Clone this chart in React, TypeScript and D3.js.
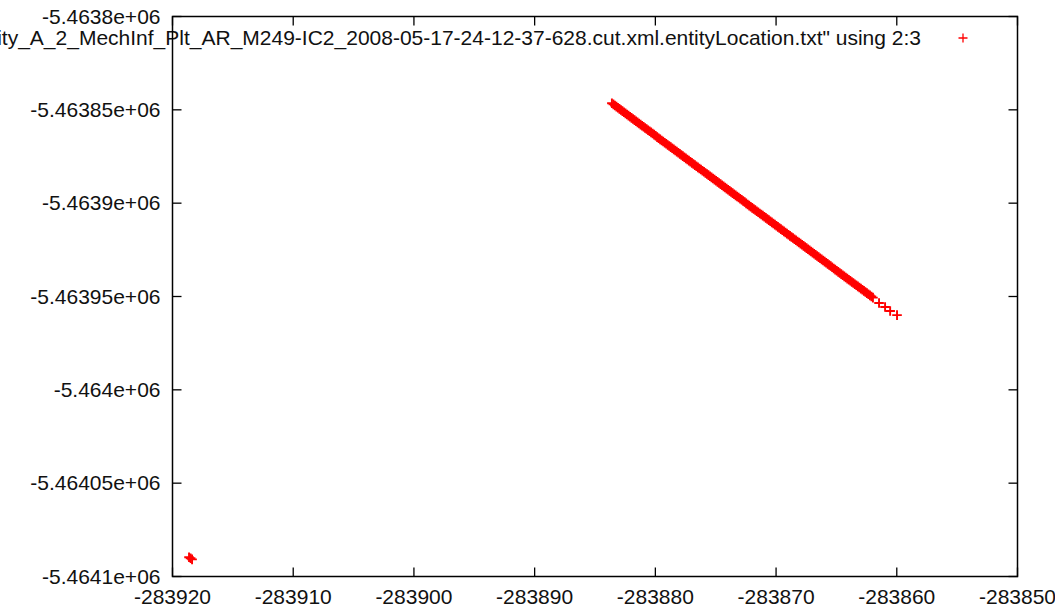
import React from "react";
import * as d3 from "d3";

// Easting (column 2) and northing (column 3) of the logged entity positions.
const trackEasting = [
  -283883.6, -283883.475, -283883.35, -283883.225, -283883.1, -283882.975, -283882.85, -283882.725,
  -283882.6, -283882.475, -283882.35, -283882.225, -283882.1, -283881.975, -283881.85, -283881.725,
  -283881.6, -283881.475, -283881.35, -283881.225, -283881.1, -283880.975, -283880.85, -283880.725,
  -283880.6, -283880.475, -283880.35, -283880.225, -283880.1, -283879.975, -283879.85, -283879.725,
  -283879.6, -283879.475, -283879.35, -283879.225, -283879.1, -283878.975, -283878.85, -283878.725,
  -283878.6, -283878.475, -283878.35, -283878.225, -283878.1, -283877.975, -283877.85, -283877.725,
  -283877.6, -283877.475, -283877.35, -283877.225, -283877.1, -283876.975, -283876.85, -283876.725,
  -283876.6, -283876.475, -283876.35, -283876.225, -283876.1, -283875.975, -283875.85, -283875.725,
  -283875.6, -283875.475, -283875.35, -283875.225, -283875.1, -283874.975, -283874.85, -283874.725,
  -283874.6, -283874.475, -283874.35, -283874.225, -283874.1, -283873.975, -283873.85, -283873.725,
  -283873.6, -283873.475, -283873.35, -283873.225, -283873.1, -283872.975, -283872.85, -283872.725,
  -283872.6, -283872.475, -283872.35, -283872.225, -283872.1, -283871.975, -283871.85, -283871.725,
  -283871.6, -283871.475, -283871.35, -283871.225, -283871.1, -283870.975, -283870.85, -283870.725,
  -283870.6, -283870.475, -283870.35, -283870.225, -283870.1, -283869.975, -283869.85, -283869.725,
  -283869.6, -283869.475, -283869.35, -283869.225, -283869.1, -283868.975, -283868.85, -283868.725,
  -283868.6, -283868.475, -283868.35, -283868.225, -283868.1, -283867.975, -283867.85, -283867.725,
  -283867.6, -283867.475, -283867.35, -283867.225, -283867.1, -283866.975, -283866.85, -283866.725,
  -283866.6, -283866.475, -283866.35, -283866.225, -283866.1, -283865.975, -283865.85, -283865.725,
  -283865.6, -283865.475, -283865.35, -283865.225, -283865.1, -283864.975, -283864.85, -283864.725,
  -283864.6, -283864.475, -283864.35, -283864.225, -283864.1, -283863.975, -283863.85, -283863.725,
  -283863.6, -283863.475, -283863.35, -283863.225, -283863.1, -283862.975, -283862.85, -283862.725,
  -283862.6, -283862.475, -283862.35, -283862.225, -283862.1, -283861.975,
  -283861.47, -283860.97, -283860.55, -283859.98,
];
const trackNorthing = [
  -5463846.5, -5463847.1, -5463847.7, -5463848.3, -5463848.9, -5463849.5, -5463850.1, -5463850.7,
  -5463851.3, -5463851.9, -5463852.5, -5463853.1, -5463853.7, -5463854.3, -5463854.9, -5463855.5,
  -5463856.1, -5463856.7, -5463857.3, -5463857.9, -5463858.5, -5463859.1, -5463859.7, -5463860.3,
  -5463860.9, -5463861.5, -5463862.1, -5463862.7, -5463863.3, -5463863.9, -5463864.6, -5463865.2,
  -5463865.8, -5463866.4, -5463867.0, -5463867.6, -5463868.2, -5463868.8, -5463869.4, -5463870.0,
  -5463870.6, -5463871.2, -5463871.8, -5463872.4, -5463873.0, -5463873.6, -5463874.2, -5463874.8,
  -5463875.4, -5463876.0, -5463876.6, -5463877.2, -5463877.8, -5463878.4, -5463879.0, -5463879.6,
  -5463880.2, -5463880.8, -5463881.4, -5463882.0, -5463882.6, -5463883.2, -5463883.8, -5463884.4,
  -5463885.0, -5463885.6, -5463886.2, -5463886.8, -5463887.4, -5463888.0, -5463888.6, -5463889.2,
  -5463889.8, -5463890.4, -5463891.0, -5463891.6, -5463892.2, -5463892.8, -5463893.4, -5463894.0,
  -5463894.6, -5463895.2, -5463895.8, -5463896.4, -5463897.0, -5463897.6, -5463898.2, -5463898.8,
  -5463899.4, -5463900.1, -5463900.7, -5463901.3, -5463901.9, -5463902.5, -5463903.1, -5463903.7,
  -5463904.3, -5463904.9, -5463905.5, -5463906.1, -5463906.7, -5463907.3, -5463907.9, -5463908.5,
  -5463909.1, -5463909.7, -5463910.3, -5463910.9, -5463911.5, -5463912.1, -5463912.7, -5463913.3,
  -5463913.9, -5463914.5, -5463915.1, -5463915.7, -5463916.3, -5463916.9, -5463917.5, -5463918.1,
  -5463918.7, -5463919.3, -5463919.9, -5463920.5, -5463921.1, -5463921.7, -5463922.3, -5463922.9,
  -5463923.5, -5463924.1, -5463924.7, -5463925.3, -5463925.9, -5463926.5, -5463927.1, -5463927.7,
  -5463928.3, -5463928.9, -5463929.5, -5463930.1, -5463930.7, -5463931.3, -5463931.9, -5463932.5,
  -5463933.1, -5463933.7, -5463934.3, -5463935.0, -5463935.6, -5463936.2, -5463936.8, -5463937.4,
  -5463938.0, -5463938.6, -5463939.2, -5463939.8, -5463940.4, -5463941.0, -5463941.6, -5463942.2,
  -5463942.8, -5463943.4, -5463944.0, -5463944.6, -5463945.2, -5463945.8, -5463946.4, -5463947.0,
  -5463947.6, -5463948.2, -5463948.8, -5463949.4, -5463950.0, -5463950.6,
  -5463953.5, -5463955.6, -5463957.8, -5463960.0,
];
// Initial fixes before the jump to the track above.
const originEasting = [-283918.63, -283918.5, -283918.38];
const originNorthing = [-5464089.7, -5464090.2, -5464090.8];

const xTicks = [-283920, -283910, -283900, -283890, -283880, -283870, -283860, -283850];
const xTickLabels = ["-283920", "-283910", "-283900", "-283890", "-283880", "-283870", "-283860", "-283850"];
const yTicks = [-5463800, -5463850, -5463900, -5463950, -5464000, -5464050, -5464100];
const yTickLabels = ["-5.4638e+06", "-5.46385e+06", "-5.4639e+06", "-5.46395e+06", "-5.464e+06", "-5.46405e+06", "-5.4641e+06"];
const seriesKey =
  '"entity_A_2_MechInf_Plt_AR_M249-IC2_2008-05-17-24-12-37-628.cut.xml.entityLocation.txt" using 2:3';

const W = 1055;
const H = 611;
const plot = { left: 172.5, right: 1017.5, top: 16.5, bottom: 576.5 };
const FONT = "'Liberation Sans', Arial, Helvetica, sans-serif";
const RED = "#ff0000";
const TICK = 9;

const plus = (s: number) => `M${-s},0H${s}M0,${-s}V${s}`;

export default function App() {
  const x = d3.scaleLinear().domain([-283920, -283850]).range([plot.left, plot.right]);
  const y = d3.scaleLinear().domain([-5464100, -5463800]).range([plot.bottom, plot.top]);

  const points = [
    ...originEasting.map((e, i) => [e, originNorthing[i]]),
    ...trackEasting.map((e, i) => [e, trackNorthing[i]]),
  ];

  return (
    <svg
      width={W}
      height={H}
      style={{ position: "absolute", left: 0, top: 0, background: "#fff" }}
      fontFamily={FONT}
      fontSize={21}
    >
      <rect width={W} height={H} fill="#fff" />
      {/* tick marks on all four sides, pointing inward */}
      <g stroke="#000" strokeWidth={1.3}>
        {xTicks.map((t) => (
          <g key={`xt${t}`}>
            <line x1={x(t)} x2={x(t)} y1={plot.bottom} y2={plot.bottom - TICK} />
            <line x1={x(t)} x2={x(t)} y1={plot.top} y2={plot.top + TICK} />
          </g>
        ))}
        {yTicks.map((t) => (
          <g key={`yt${t}`}>
            <line x1={plot.left} x2={plot.left + TICK} y1={y(t)} y2={y(t)} />
            <line x1={plot.right} x2={plot.right - TICK} y1={y(t)} y2={y(t)} />
          </g>
        ))}
      </g>
      <g fill="#111">
        {xTicks.map((t, i) => (
          <text key={`xl${t}`} x={x(t)} y={plot.bottom + 27} textAnchor="middle">
            {xTickLabels[i]}
          </text>
        ))}
        {yTicks.map((t, i) => (
          <text key={`yl${t}`} x={plot.left - 12} y={y(t) + 7} textAnchor="end">
            {yTickLabels[i]}
          </text>
        ))}
      </g>
      {/* key: the long file name runs past the left edge */}
      <text x={921} y={45} textAnchor="end" fill="#111">
        {seriesKey}
      </text>
      <path d={plus(4.5)} transform="translate(963,38)" stroke={RED} strokeWidth={1.3} fill="none" />
      {/* positions */}
      <g stroke={RED} strokeWidth={1.9} fill="none">
        {points.map(([e, n], i) => (
          <path key={i} d={plus(4.8)} transform={`translate(${x(e)},${y(n)})`} />
        ))}
      </g>
      <rect
        x={plot.left}
        y={plot.top}
        width={plot.right - plot.left}
        height={plot.bottom - plot.top}
        fill="none"
        stroke="#000"
        strokeWidth={1.5}
      />
    </svg>
  );
}
